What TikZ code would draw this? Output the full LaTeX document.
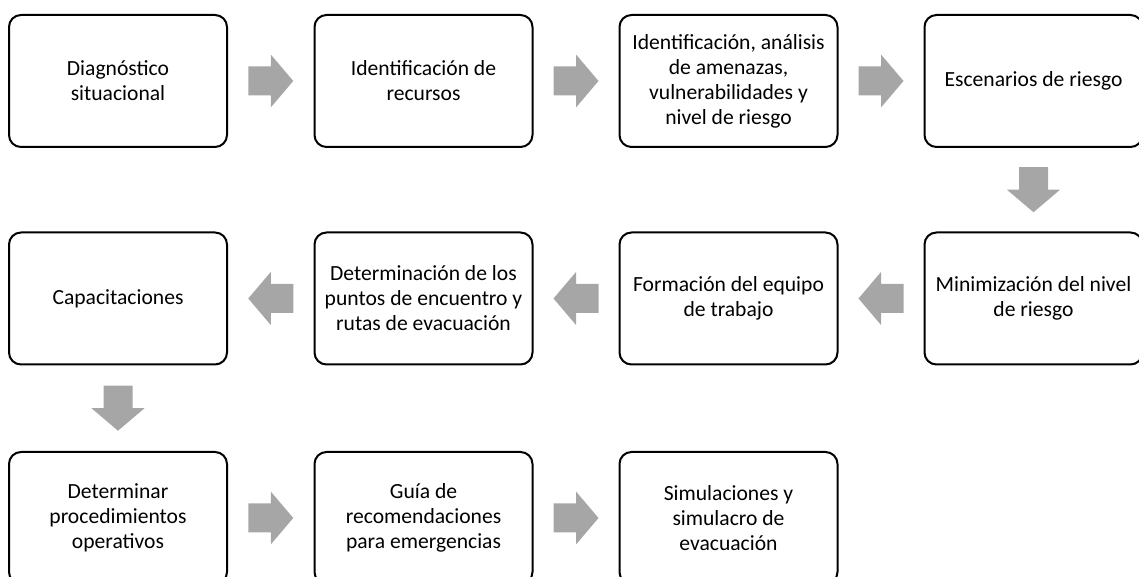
\documentclass[tikz,border=0pt]{standalone}
\usepackage{fontspec}
\setmainfont{Carlito}
\usetikzlibrary{
  positioning,
  calc
}
\definecolor{flechagris}{HTML}{A6A6A6}

\begin{document}
\begin{tikzpicture}[
    x=0.75pt, y=0.75pt, font=\fontsize{16.2}{18.8}\selectfont,
    etapa/.style={
      draw=black,
      line width=1.5pt,
      rounded corners=9pt,
      minimum width=163.5pt,
      minimum height=99pt,
      inner sep=2pt,
      align=center
    },
    flecha/.pic={
      \fill[flechagris] (-22.5,-14.5) -- (0,-14.5) -- (0,-26.5) -- (22.5,0)
        -- (0,26.5) -- (0,14.5) -- (-22.5,14.5) -- cycle;
    }
  ]

  \clip (0,0) rectangle (1139,577);
  \useasboundingbox (0,0) rectangle (1139,577);

  % Row one
  \node[etapa] (diag) at (118,496) {Diagnóstico\\situacional};
  \node[etapa] (recursos) at (423.5,496) {Identificación de\\recursos};
  \node[etapa] (amenazas) at (728.5,496) {Identificación, análisis\\de amenazas,\\vulnerabilidades y\\nivel de riesgo};
  \node[etapa] (escenarios) at (1033.5,496) {Escenarios de riesgo};

  % Row two
  \node[etapa] (minim) at (1033.5,278.5) {Minimización del nivel\\de riesgo};
  \node[etapa] (equipo) at (728.5,278.5) {Formación del equipo\\de trabajo};
  \node[etapa] (puntos) at (423.5,278.5) {Determinación de los\\puntos de encuentro y\\rutas de evacuación};
  \node[etapa] (capac) at (118,278.5) {Capacitaciones};

  % Row three
  \node[etapa] (proced) at (118,59) {Determinar\\procedimientos\\operativos};
  \node[etapa] (guia) at (423.5,59) {Guía de\\recomendaciones\\para emergencias};
  \node[etapa] (simul) at (728.5,59) {Simulaciones y\\simulacro de\\evacuación};

  % Arrows
  \pic at ($(diag.east)!0.5!(recursos.west)$) {flecha};
  \pic at ($(recursos.east)!0.5!(amenazas.west)$) {flecha};
  \pic at ($(amenazas.east)!0.5!(escenarios.west)$) {flecha};
  \pic[rotate=-90] at ($(escenarios.south)!0.5!(minim.north)$) {flecha};
  \pic[rotate=180] at ($(minim.west)!0.5!(equipo.east)$) {flecha};
  \pic[rotate=180] at ($(equipo.west)!0.5!(puntos.east)$) {flecha};
  \pic[rotate=180] at ($(puntos.west)!0.5!(capac.east)$) {flecha};
  \pic[rotate=-90] at ($(capac.south)!0.5!(proced.north)$) {flecha};
  \pic at ($(proced.east)!0.5!(guia.west)$) {flecha};
  \pic at ($(guia.east)!0.5!(simul.west)$) {flecha};

\end{tikzpicture}
\end{document}
